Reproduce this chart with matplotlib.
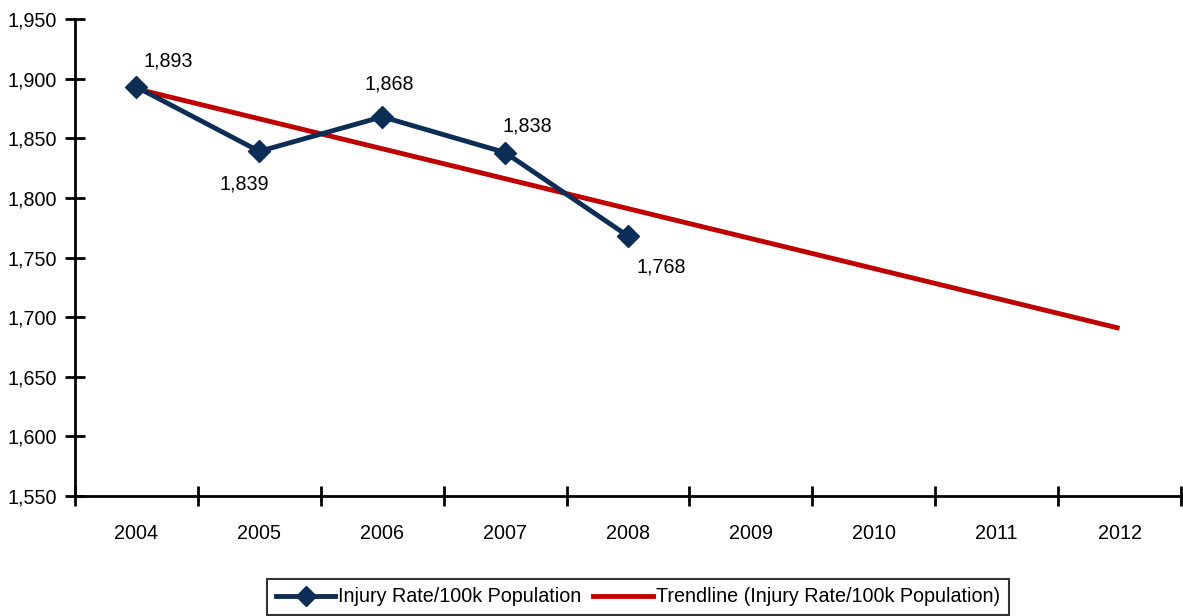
import matplotlib
matplotlib.use('Agg')
from matplotlib import pyplot as plt
from matplotlib.ticker import FuncFormatter, FixedLocator
from matplotlib.lines import Line2D

plt.rcParams['font.family'] = ['Liberation Sans', 'DejaVu Sans']

# data
years = ['2004', '2005', '2006', '2007', '2008', '2009', '2010', '2011', '2012']
injury_rate = [1893, 1839, 1868, 1838, 1768]
trend_years_idx = [0, 8]
trend_values = [1891.4, 1690.6]
# label offsets in pixels (dx, dy)
label_offsets = [(32, 26), (-15, -33), (7, 33), (22, 27), (33, -31)]

navy = '#0c2d55'
red = '#c00000'
fs = 14.2

fig = plt.figure(figsize=(11.83, 6.16), dpi=100)
ax = fig.add_axes([75 / 1183, 1 - 496 / 616, 1106 / 1183, 477 / 616])

x = list(range(len(injury_rate)))
ax.plot(x, injury_rate, color=navy, lw=3.5, marker='D', ms=11, zorder=3)
ax.plot(trend_years_idx, trend_values, color=red, lw=3.5, zorder=2, solid_capstyle='butt')

for xi, yi, (dx, dy) in zip(x, injury_rate, label_offsets):
    ax.annotate(f'{yi:,}', (xi, yi), xytext=(dx * 0.72, dy * 0.72), textcoords='offset points',
                ha='center', va='center', fontsize=fs)

ax.set_xlim(-0.5, len(years) - 0.5)
ax.set_ylim(1550, 1950)
ax.set_yticks(range(1550, 1951, 50))
ax.yaxis.set_major_formatter(FuncFormatter(lambda v, p: f'{int(v):,}'))

ax.xaxis.set_major_locator(FixedLocator([i - 0.5 for i in range(len(years) + 1)]))
ax.xaxis.set_major_formatter(FuncFormatter(lambda v, p: ''))
ax.xaxis.set_minor_locator(FixedLocator(range(len(years))))
ax.set_xticklabels(years, minor=True)
ax.tick_params(axis='x', which='minor', length=0, pad=20, labelsize=fs)
ax.tick_params(axis='x', which='major', direction='inout', length=14, width=2)
ax.tick_params(axis='y', direction='inout', length=14, width=2, labelsize=fs, pad=6)

for s in ['top', 'right']:
    ax.spines[s].set_visible(False)
for s in ['left', 'bottom']:
    ax.spines[s].set_linewidth(2)

handles = [Line2D([], [], color=navy, lw=3.5, marker='D', ms=10),
           Line2D([], [], color=red, lw=3.5)]
leg = fig.legend(handles, ['Injury Rate/100k Population', 'Trendline (Injury Rate/100k Population)'],
                 loc='center', bbox_to_anchor=(638 / 1183, 1 - 597 / 616), ncol=2, fontsize=fs,
                 frameon=True, fancybox=False, handlelength=3.0, handletextpad=0.15, columnspacing=0.6,
                 borderpad=0.45, borderaxespad=0)
leg.get_frame().set_edgecolor('black')
leg.get_frame().set_linewidth(1.5)

plt.savefig('out.png', dpi=100)
